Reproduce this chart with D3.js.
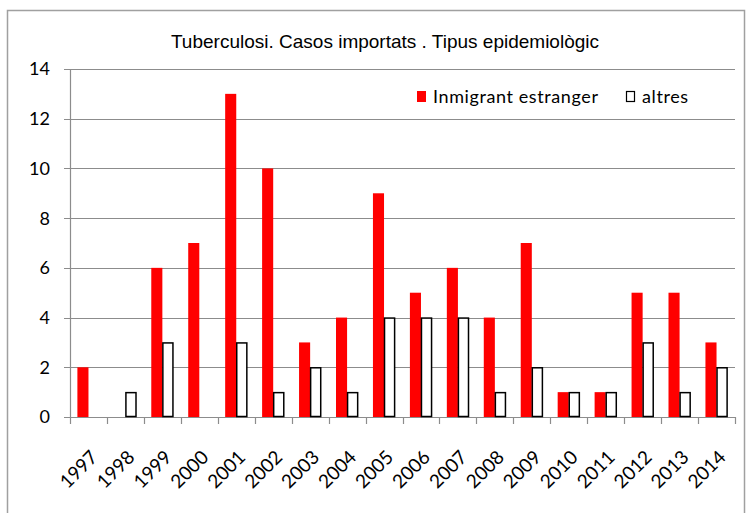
<!DOCTYPE html>
<html>
<head>
<meta charset="utf-8">
<script src="https://cdn.jsdelivr.net/npm/d3@7"></script>
<style>
  body { margin: 0; background: #fff; }
  text { font-family: Lato, "Open Sans", sans-serif; fill: #000; }
</style>
</head>
<body>
<script>
// data
var years = ["1997","1998","1999","2000","2001","2002","2003","2004","2005",
             "2006","2007","2008","2009","2010","2011","2012","2013","2014"];
var immigrant = [2,0,6,7,13,10,3,4,9,5,6,4,7,1,1,5,5,3];
var altres = [0,1,3,0,3,1,2,1,4,4,4,1,2,1,1,3,1,2];
var seriesNames = ["Inmigrant estranger", "altres"];
var yTicks = [0,2,4,6,8,10,12,14];

var width = 750, height = 513;
var margin = {left: 70, right: 15, top: 69, bottom: 96};

var svg = d3.select("body").append("svg")
    .attr("width", width)
    .attr("height", height);

// chart frame
svg.append("rect")
    .attr("x", 7.5).attr("y", 10.5)
    .attr("width", 737).attr("height", 530)
    .attr("fill", "none")
    .attr("stroke", "#a0a0a0")
    .attr("stroke-width", 1.5);

var x = d3.scaleBand()
    .domain(years)
    .range([margin.left, width - margin.right])
    .paddingInner(0.4)
    .paddingOuter(0.2);

var x1 = d3.scaleBand()
    .domain(seriesNames)
    .range([0, x.bandwidth()]);

var y = d3.scaleLinear()
    .domain([0, 14])
    .range([height - margin.bottom, margin.top]);

// grid lines
svg.append("g")
    .selectAll("line")
    .data(yTicks)
    .enter().append("line")
    .attr("x1", margin.left - 6)
    .attr("x2", width - margin.right)
    .attr("y1", function(d) { return Math.round(y(d)) + 0.5; })
    .attr("y2", function(d) { return Math.round(y(d)) + 0.5; })
    .attr("stroke", "#8c8c8c")
    .attr("stroke-width", 1.2);

// y axis line
svg.append("line")
    .attr("x1", margin.left + 0.5).attr("x2", margin.left + 0.5)
    .attr("y1", y(14)).attr("y2", y(0))
    .attr("stroke", "#8c8c8c")
    .attr("stroke-width", 1.2);

svg.append("g")
    .selectAll("text")
    .data(yTicks)
    .enter().append("text")
    .attr("x", margin.left - 20)
    .attr("y", function(d) { return y(d); })
    .attr("dy", "0.36em")
    .attr("text-anchor", "end")
    .style("font-size", "18px")
    .text(function(d) { return d; });

// x tick marks between categories
var step = x.step();
var xTickPos = years.map(function(d, i) { return margin.left + i * step; });
xTickPos.push(width - margin.right);
svg.append("g")
    .selectAll("line")
    .data(xTickPos)
    .enter().append("line")
    .attr("x1", function(d) { return Math.round(d) + 0.5; })
    .attr("x2", function(d) { return Math.round(d) + 0.5; })
    .attr("y1", y(0))
    .attr("y2", y(0) + 7)
    .attr("stroke", "#8c8c8c")
    .attr("stroke-width", 1.2);

// bars
var bars = svg.append("g");
bars.selectAll(".imm")
    .data(immigrant)
    .enter().append("rect")
    .attr("class", "imm")
    .attr("x", function(d, i) { return x(years[i]) + x1(seriesNames[0]); })
    .attr("y", function(d) { return y(d); })
    .attr("width", x1.bandwidth())
    .attr("height", function(d) { return y(0) - y(d); })
    .attr("fill", "#ff0000");

bars.selectAll(".alt")
    .data(altres.map(function(v, i) { return {v: v, year: years[i]}; }).filter(function(d) { return d.v > 0; }))
    .enter().append("rect")
    .attr("class", "alt")
    .attr("x", function(d) { return x(d.year) + x1(seriesNames[1]) + 0.5; })
    .attr("y", function(d) { return y(d.v) + 0.5; })
    .attr("width", x1.bandwidth() - 1)
    .attr("height", function(d) { return y(0) - y(d.v) - 1; })
    .attr("fill", "#fff")
    .attr("stroke", "#000")
    .attr("stroke-width", 1.5);

// x labels rotated
svg.append("g")
    .selectAll("text")
    .data(years)
    .enter().append("text")
    .attr("transform", function(d) {
        return "translate(" + (x(d) + x.bandwidth() / 2 + 1) + "," + (y(0) + 32) + ") rotate(-45)";
    })
    .attr("text-anchor", "end")
    .attr("dy", "0.7em")
    .style("font-size", "19px")
    .text(function(d) { return d; });

// title
svg.append("text")
    .attr("x", 385)
    .attr("y", 48)
    .attr("text-anchor", "middle")
    .style("font-family", "'Liberation Sans Narrow', 'Liberation Sans', sans-serif")
    .style("font-size", "19px")
    .text("Tuberculosi. Casos  importats . Tipus epidemiològic");

// legend
var legend = svg.append("g");
legend.append("rect")
    .attr("x", 417).attr("y", 91)
    .attr("width", 9).attr("height", 11)
    .attr("fill", "#ff0000");
legend.append("text")
    .attr("x", 433).attr("y", 103)
    .style("font-size", "18px")
    .style("letter-spacing", "0.6px")
    .text(seriesNames[0]);
legend.append("rect")
    .attr("x", 626.5).attr("y", 91.5)
    .attr("width", 8).attr("height", 10)
    .attr("fill", "#fff")
    .attr("stroke", "#000")
    .attr("stroke-width", 1.2);
legend.append("text")
    .attr("x", 642).attr("y", 103)
    .style("font-size", "18px")
    .style("letter-spacing", "0.6px")
    .text(seriesNames[1]);
</script>
</body>
</html>
